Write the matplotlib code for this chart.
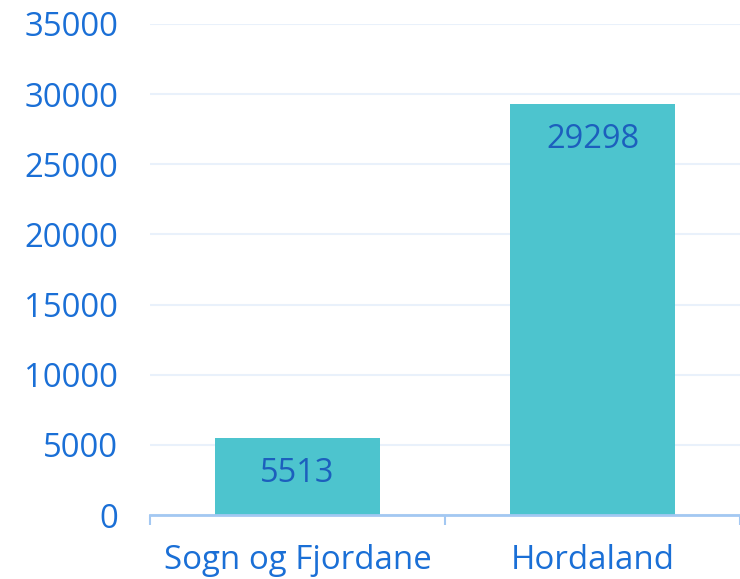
import matplotlib
matplotlib.use("Agg")
import matplotlib.pyplot as plt

categories = ["Sogn og Fjordane", "Hordaland"]
values = [5513, 29298]
yticks = [0, 5000, 10000, 15000, 20000, 25000, 30000, 35000]

plt.rcParams['font.family'] = ['Open Sans', 'DejaVu Sans']

fig = plt.figure(figsize=(7.4, 5.79), dpi=100)
ax = fig.add_axes([150/740, (579-515)/579, 590/740, (515-24)/579])

x = list(range(len(categories)))
bars = ax.bar(x, values, width=0.556, color='#4dc4ce', zorder=2)
for xi, v in zip(x, values):
    ax.annotate(str(v), (xi, v), xytext=(0, -36), textcoords='offset pixels',
                ha='center', va='center', fontsize=23.5, color='#1c5fbd', zorder=3)

ax.set_xlim(-0.5, 1.4667)
ax.set_ylim(0, 35000)
ax.set_yticks(yticks)
ax.set_yticklabels([str(t) for t in yticks])
ax.tick_params(axis='y', length=0, pad=23, labelsize=23.7, labelcolor='#1a6fd6')
ax.set_xticks(x)
ax.set_xticklabels(categories)
ax.tick_params(axis='x', which='major', length=0, pad=21, labelsize=23.8, labelcolor='#1a6fd6')
ax.set_xticks([-0.5, 0.5, 1.5], minor=True)
ax.tick_params(axis='x', which='minor', length=7, width=1.5, color='#a3c8f2')

ax.grid(axis='y', color='#e9f1fb', linewidth=1.5, zorder=0)
for s in ['top', 'right', 'left']:
    ax.spines[s].set_visible(False)
ax.spines['bottom'].set_color('#a3c8f2')
ax.spines['bottom'].set_linewidth(2)
ax.spines['bottom'].set_zorder(3)

fig.savefig('out.png', dpi=100)
